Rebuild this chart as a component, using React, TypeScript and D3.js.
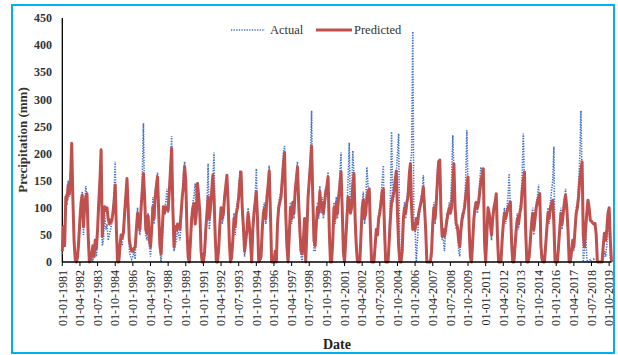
import { useRef, useEffect } from 'react';
import * as d3 from 'd3';

const W = 618;
const H = 355;
const PLOT = { left: 62.3, right: 611.5, top: 18, bottom: 262 };

const START_YEAR = 1981;
const LABEL_STEP = 15; // one axis label every 15 months
const Y_TICKS = [0, 50, 100, 150, 200, 250, 300, 350, 400, 450];

// monthly precipitation (mm), Jan..Dec per row, 1981..2019
const ACTUAL = [
  15, 55, 30, 125, 105, 150, 120, 160, 210, 110, 30, 0, // 1981
  0, 5, 30, 70, 120, 130, 50, 110, 140, 120, 40, 0,
  0, 10, 0, 20, 30, 10, 50, 110, 160, 190, 30, 40,
  90, 60, 70, 40, 50, 60, 70, 95, 130, 185, 50, 0,
  0, 10, 40, 30, 60, 100, 130, 145, 110, 20, 10, 5, // 1985
  10, 20, 5, 70, 100, 60, 50, 110, 160, 256, 100, 50,
  40, 90, 30, 10, 50, 120, 70, 130, 150, 165, 80, 20,
  0, 40, 90, 100, 110, 135, 90, 140, 180, 232, 80, 20,
  30, 40, 60, 50, 40, 70, 110, 160, 185, 140, 50, 0,
  0, 30, 80, 110, 120, 145, 80, 130, 110, 70, 10, 0, // 1990
  0, 10, 40, 100, 181, 60, 90, 120, 150, 202, 40, 0,
  0, 20, 60, 102, 70, 80, 110, 130, 150, 100, 30, 0,
  5, 30, 90, 50, 100, 110, 130, 168, 140, 90, 50, 10,
  30, 50, 100, 60, 30, 0, 50, 90, 120, 172, 60, 0,
  0, 5, 40, 100, 110, 70, 110, 150, 178, 70, 0, 0, // 1995
  0, 10, 0, 80, 110, 120, 130, 160, 200, 214, 70, 10,
  0, 40, 110, 70, 100, 80, 140, 160, 185, 90, 40, 10,
  0, 30, 60, 0, 50, 110, 160, 200, 279, 100, 20, 20,
  60, 110, 80, 140, 90, 120, 80, 100, 120, 130, 166, 40,
  0, 0, 30, 110, 70, 120, 80, 130, 160, 202, 90, 10, // 2000
  0, 30, 100, 150, 220, 90, 110, 205, 163, 60, 20, 0,
  0, 0, 40, 110, 130, 70, 100, 175, 140, 130, 40, 0,
  0, 0, 20, 50, 60, 90, 100, 120, 150, 178, 40, 0,
  0, 0, 60, 120, 240, 110, 120, 140, 160, 200, 237, 0,
  0, 10, 60, 110, 80, 120, 130, 170, 180, 200, 425, 60, // 2005
  60, 0, 40, 80, 90, 120, 130, 160, 110, 50, 0, 0,
  0, 0, 10, 80, 110, 70, 120, 170, 175, 150, 80, 40,
  40, 20, 65, 90, 80, 110, 100, 150, 234, 170, 80, 60,
  70, 20, 10, 70, 90, 80, 110, 150, 243, 140, 40, 0,
  0, 30, 90, 110, 100, 90, 120, 150, 175, 160, 150, 20, // 2010
  0, 40, 102, 80, 60, 40, 90, 100, 110, 100, 30, 0,
  0, 0, 30, 80, 100, 70, 100, 120, 163, 100, 20, 0,
  0, 20, 70, 90, 60, 100, 110, 160, 237, 140, 40, 0,
  0, 5, 30, 80, 100, 50, 90, 110, 120, 143, 100, 10,
  0, 0, 0, 20, 70, 100, 70, 110, 130, 150, 213, 0, // 2015
  0, 0, 20, 70, 100, 60, 100, 120, 135, 90, 50, 0,
  0, 10, 30, 20, 70, 100, 110, 145, 190, 279, 150, 0,
  20, 60, 5, 0, 0, 5, 0, 0, 5, 0, 0, 0,
  0, 0, 0, 0, 5, 20, 10, 30, 60, 80, 5, 0, // 2019
];

const PREDICTED = [
  20, 65, 30, 120, 115, 142, 125, 150, 219, 115, 40, 5, // 1981
  0, 10, 40, 80, 110, 123, 65, 100, 120, 126, 50, 0,
  5, 15, 30, 10, 40, 25, 60, 110, 150, 207, 47, 90,
  102, 95, 100, 80, 70, 77, 75, 90, 110, 142, 60, 0,
  0, 30, 50, 45, 55, 90, 120, 154, 100, 40, 28, 20, // 1985
  20, 25, 28, 60, 90, 70, 60, 100, 130, 163, 120, 60,
  53, 85, 40, 28, 60, 102, 80, 120, 140, 157, 90, 30,
  15, 60, 102, 90, 102, 100, 95, 130, 170, 210, 100, 28,
  65, 60, 70, 65, 60, 90, 120, 140, 176, 150, 60, 10,
  0, 40, 80, 100, 108, 70, 90, 145, 120, 90, 20, 0, // 1990
  0, 20, 60, 90, 120, 80, 100, 130, 160, 120, 50, 0,
  0, 25, 70, 100, 80, 90, 120, 140, 160, 110, 40, 0,
  10, 40, 80, 65, 90, 100, 120, 150, 166, 100, 65, 20,
  40, 60, 90, 70, 40, 0, 60, 90, 110, 130, 80, 0,
  5, 10, 60, 90, 100, 80, 120, 140, 168, 90, 0, 0, // 1995
  0, 20, 0, 70, 100, 110, 120, 150, 180, 202, 90, 30,
  0, 50, 100, 80, 110, 90, 130, 152, 175, 110, 60, 20,
  15, 40, 80, 0, 60, 120, 150, 180, 214, 120, 40, 30,
  70, 100, 90, 130, 100, 110, 90, 110, 130, 140, 157, 60,
  0, 0, 40, 100, 80, 110, 90, 120, 140, 166, 100, 20, // 2000
  0, 40, 80, 120, 110, 90, 100, 140, 163, 80, 30, 0,
  0, 0, 50, 100, 115, 80, 90, 117, 130, 135, 60, 0,
  0, 0, 30, 60, 50, 80, 90, 110, 130, 135, 60, 0,
  0, 0, 40, 80, 110, 120, 130, 150, 168, 90, 30, 0,
  0, 20, 80, 100, 90, 110, 120, 160, 181, 100, 60, 70, // 2005
  60, 80, 70, 90, 100, 110, 120, 138, 100, 60, 0, 0,
  0, 0, 20, 70, 100, 80, 110, 150, 185, 188, 90, 47,
  60, 47, 60, 77, 90, 100, 90, 100, 140, 181, 100, 70,
  65, 40, 28, 60, 80, 90, 100, 120, 140, 157, 60, 10,
  0, 40, 80, 100, 110, 100, 110, 130, 150, 160, 172, 40, // 2010
  0, 50, 100, 90, 70, 50, 80, 100, 110, 126, 50, 0,
  0, 0, 40, 70, 90, 80, 90, 100, 105, 111, 40, 0,
  0, 30, 60, 80, 70, 90, 100, 130, 150, 166, 60, 0,
  0, 10, 40, 70, 90, 60, 80, 100, 110, 120, 126, 30,
  5, 0, 0, 30, 60, 90, 80, 100, 108, 114, 70, 0, // 2015
  10, 0, 30, 60, 90, 70, 90, 110, 123, 100, 60, 0,
  0, 20, 40, 28, 60, 90, 100, 120, 150, 170, 185, 50,
  28, 60, 90, 114, 100, 77, 75, 72, 70, 71, 50, 0,
  0, 0, 0, 0, 30, 53, 40, 60, 90, 100, 40, 0, // 2019
];

const ACTUAL_COLOR = '#4472C4';
const PREDICTED_COLOR = '#C0504D';
const FONT = '"Liberation Serif", "Times New Roman", serif';

function fmtLabel(i: number): string {
  const d = new Date(START_YEAR, i, 1);
  const mm = String(d.getMonth() + 1).padStart(2, '0');
  return `01-${mm}-${d.getFullYear()}`;
}

function PrecipChart() {
  const svgRef = useRef<SVGSVGElement>(null);

  useEffect(() => {
    if (!svgRef.current) return;
    const svg = d3.select(svgRef.current);
    svg.selectAll('*').remove();

    const n = ACTUAL.length;
    const x = d3.scaleLinear().domain([0, n - 1]).range([PLOT.left, PLOT.right]);
    const y = d3.scaleLinear().domain([0, 450]).range([PLOT.bottom, PLOT.top]);

    // frame
    svg.append('rect')
      .attr('x', 12).attr('y', 5).attr('width', 602).attr('height', 348)
      .attr('fill', '#fff').attr('stroke', '#00B0F0').attr('stroke-width', 2);

    // ── Y axis ──
    svg.append('line')
      .attr('x1', PLOT.left).attr('x2', PLOT.left)
      .attr('y1', y(450)).attr('y2', y(0))
      .attr('stroke', '#000').attr('stroke-width', 1.3);

    svg.append('g')
      .selectAll('text')
      .data(Y_TICKS)
      .join('text')
      .attr('x', 52)
      .attr('y', (d) => y(d))
      .attr('dy', '0.35em')
      .attr('text-anchor', 'end')
      .attr('font-family', FONT)
      .attr('font-size', '12px')
      .attr('font-weight', 'bold')
      .attr('fill', '#333')
      .text((d) => `${d}`);

    svg.append('text')
      .attr('transform', `translate(27,${(PLOT.top + PLOT.bottom) / 2}) rotate(-90)`)
      .attr('text-anchor', 'middle')
      .attr('font-family', FONT)
      .attr('font-size', '13px')
      .attr('font-weight', 'bold')
      .attr('fill', '#333')
      .text('Precipitation (mm)');

    // ── Series ──
    const idx = d3.range(n);
    const line = (vals: number[]) =>
      d3.line<number>().x((i) => x(i)).y((i) => y(vals[i]))(idx);

    svg.append('path')
      .attr('d', line(ACTUAL))
      .attr('fill', 'none')
      .attr('stroke', ACTUAL_COLOR)
      .attr('stroke-width', 1.6)
      .attr('stroke-dasharray', '1.3,1.3');

    svg.append('path')
      .attr('d', line(PREDICTED))
      .attr('fill', 'none')
      .attr('stroke', PREDICTED_COLOR)
      .attr('stroke-width', 3)
      .attr('stroke-linejoin', 'round');

    // ── X axis ──
    const labelIdx = idx.filter((i) => i % LABEL_STEP === 0);
    svg.append('line')
      .attr('x1', PLOT.left).attr('x2', PLOT.right)
      .attr('y1', y(0)).attr('y2', y(0))
      .attr('stroke', '#000').attr('stroke-width', 1.3);

    svg.append('g')
      .selectAll('line')
      .data(labelIdx)
      .join('line')
      .attr('x1', (i) => x(i)).attr('x2', (i) => x(i))
      .attr('y1', y(0)).attr('y2', y(0) + 4)
      .attr('stroke', '#000');

    svg.append('g')
      .selectAll('text')
      .data(labelIdx)
      .join('text')
      .attr('transform', (i) => `translate(${x(i)},${y(0) + 8}) rotate(-90)`)
      .attr('dy', '0.35em')
      .attr('text-anchor', 'end')
      .attr('font-family', FONT)
      .attr('font-size', '12px')
      .attr('fill', '#222')
      .text((i) => fmtLabel(i));

    svg.append('text')
      .attr('x', (PLOT.left + PLOT.right) / 2)
      .attr('y', 349)
      .attr('text-anchor', 'middle')
      .attr('font-family', FONT)
      .attr('font-size', '14px')
      .attr('font-weight', 'bold')
      .attr('fill', '#222')
      .text('Date');

    // ── Legend ──
    const lg = svg.append('g').attr('font-family', FONT).attr('font-size', '12.5px').attr('fill', '#333');
    lg.append('line')
      .attr('x1', 231).attr('x2', 265).attr('y1', 30).attr('y2', 30)
      .attr('stroke', ACTUAL_COLOR).attr('stroke-width', 1.6).attr('stroke-dasharray', '1.3,1.3');
    lg.append('text').attr('x', 270).attr('y', 34).text('Actual');
    lg.append('line')
      .attr('x1', 316).attr('x2', 352).attr('y1', 30).attr('y2', 30)
      .attr('stroke', PREDICTED_COLOR).attr('stroke-width', 3);
    lg.append('text').attr('x', 354).attr('y', 34).text('Predicted');
  }, []);

  return (
    <svg
      ref={svgRef}
      width={W}
      height={H}
      style={{ position: 'absolute', left: 0, top: 0, background: '#fff' }}
    />
  );
}

export default function App() {
  return <PrecipChart />;
}
